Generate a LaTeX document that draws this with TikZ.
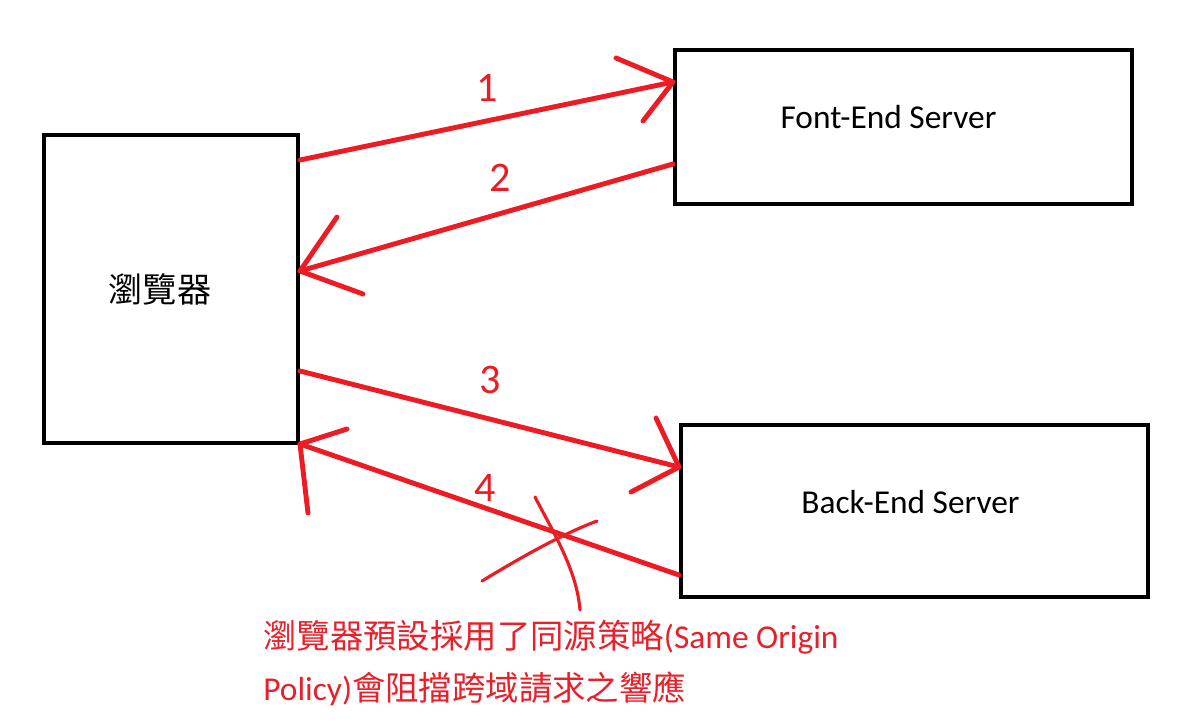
\documentclass[tikz,border=0pt]{standalone}
\usepackage{fontspec}
\setmainfont{Carlito}
\newfontfamily\cjk{Noto Sans CJK TC}
\usetikzlibrary{calc}
\definecolor{penred}{HTML}{ED1C24}
\definecolor{txtred}{HTML}{E8202A}

\begin{document}
\begin{tikzpicture}[
  x=0.02cm, y=-0.02cm,
  srvbox/.style={draw=black, line width=2.3pt, fill=white, inner sep=0pt,
    font=\fontsize{19}{22}\selectfont, text=black},
  pen/.style={draw=penred, line width=2.8pt, line cap=round, line join=round},
  numlbl/.style={font=\fontsize{24}{26}\selectfont, text=penred},
]

% Canvas
\useasboundingbox[fill=white] (0,0) rectangle (1178,725);

% =============================================
% Boxes
% =============================================
\node[srvbox, minimum width=5.08cm, minimum height=6.16cm] (browser) at (171,289)
  {\fontsize{19.5}{22}\selectfont\cjk 瀏覽器\kern0.44cm};
\node[srvbox, minimum width=9.14cm, minimum height=3.08cm] (front) at (903.5,127)
  {\raisebox{0.4cm}{Font-End Server}\kern0.6cm};
\node[srvbox, minimum width=9.34cm, minimum height=3.44cm] (back) at (914.5,511)
  {\raisebox{0.36cm}{Back-End Server}\kern0.16cm};

% Arrow ends on the box edges
\coordinate (b1) at (browser.north east |- 0,160);
\coordinate (b2) at (browser.north east |- 0,271);
\coordinate (b3) at (browser.north east |- 0,371);
\coordinate (b4) at (browser.north east |- 0,444);
\coordinate (f1) at (front.north west |- 0,82);
\coordinate (f2) at (front.north west |- 0,164);
\coordinate (k3) at (back.north west |- 0,467);
\coordinate (k4) at (back.north west |- 0,575);

% =============================================
% Requests and responses
% =============================================
% 1: browser -> front-end
\draw[pen] (b1) -- (f1);
\draw[pen] (616,58) -- (f1) -- (643,121);
\node[numlbl] (n1) at (487,88) {1};

% 2: front-end -> browser
\draw[pen] (f2) -- (b2);
\draw[pen] (337,217) -- (b2) -- (363,294);
\node[numlbl] (n2) at (500,178) {2};

% 3: browser -> back-end
\draw[pen] (b3) -- (k3);
\draw[pen] (656,418) -- (k3) -- (631,492);
\node[numlbl] (n3) at (490,380) {3};

% 4: back-end -> browser (blocked)
\draw[pen] (k4) -- (b4);
\draw[pen] (347,429) -- (b4) -- (308,513);
\node[numlbl] (n4) at (485,488) {4};

% Cross over response 4
\draw[pen, line width=1.8pt] (535,497) .. controls (552,530) and (577,570) .. (580,610);
\draw[pen, line width=1.8pt] (482,581) .. controls (520,558) and (560,535) .. (597,521);

% =============================================
% Note
% =============================================
\node[anchor=west, align=left, text=txtred, inner sep=0pt,
  font=\fontsize{19}{30}\selectfont] (note) at (263,663)
  {{\cjk 瀏覽器預設採用了同源策略}(Same Origin\\
   Policy){\cjk 會阻擋跨域請求之響應}};

\end{tikzpicture}
\end{document}
